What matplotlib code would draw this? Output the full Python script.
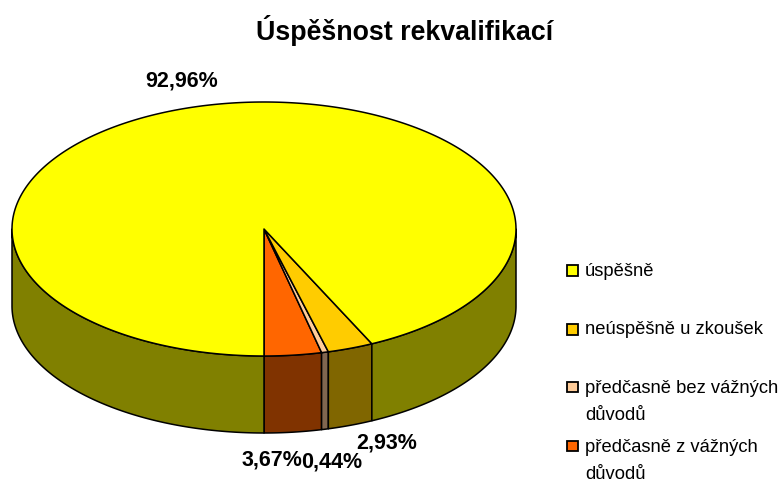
import matplotlib
matplotlib.use('Agg')
import matplotlib.pyplot as plt
import numpy as np
from matplotlib.patches import Polygon, Rectangle

plt.rcParams['font.family'] = ['Liberation Sans', 'DejaVu Sans']

title = 'Úspěšnost rekvalifikací'
# od spodku pie proti smeru hodin
labels = ['předčasně z vážných\ndůvodů', 'předčasně bez vážných\ndůvodů', 'neúspěšně u zkoušek', 'úspěšně']
values = [3.67, 0.44, 2.93, 92.96]
value_labels = ['3,67%', '0,44%', '2,93%', '92,96%']
top_colors = ['#ff6600', '#ffcc99', '#ffcc00', '#ffff00']
side_colors = ['#803300', '#806650', '#806600', '#808000']

# poradi v legende
legend_order = [3, 2, 1, 0]
legend_y = [271, 330, 402, 461]
label_pos = [(272, 460), (332, 462), (387, 443), (182, 81)]

cx, cy, rx, ry, depth = 264, 229, 252, 127, 77

fig = plt.figure(figsize=(7.84, 4.82), dpi=100)
ax = fig.add_axes([0, 0, 1, 1])
ax.set_xlim(0, 784)
ax.set_ylim(482, 0)
ax.axis('off')


def edge(t):
    # t = uhel od spodku elipsy proti smeru hodin
    return cx + rx * np.sin(t), cy + ry * np.cos(t)


bounds = np.concatenate([[0], np.cumsum(values)]) / sum(values) * 2 * np.pi

# bocni stena, jen predni polovina
for i in range(len(values)):
    for lo, hi in [(0, np.pi / 2), (3 * np.pi / 2, 2 * np.pi)]:
        a, b = max(bounds[i], lo), min(bounds[i + 1], hi)
        if a >= b:
            continue
        t = np.linspace(a, b, 150)
        x, y = edge(t)
        pts = np.r_[np.c_[x, y], np.c_[x, y + depth][::-1]]
        ax.add_patch(Polygon(pts, closed=True, fc=side_colors[i], ec='black', lw=1.1, joinstyle='round'))

# horni plocha
for i in range(len(values)):
    t = np.linspace(bounds[i], bounds[i + 1], 400)
    x, y = edge(t)
    pts = np.r_[[[cx, cy]], np.c_[x, y]]
    ax.add_patch(Polygon(pts, closed=True, fc=top_colors[i], ec='black', lw=1.1, joinstyle='round'))

ax.text(405, 31, title, ha='center', va='center', fontsize=19.25, fontweight='bold', color='black')

for s, (px, py) in zip(value_labels, label_pos):
    ax.text(px, py, s, ha='center', va='center', fontsize=15.5, fontweight='bold', color='black')

for i, ly in zip(legend_order, legend_y):
    first = ly if '\n' not in labels[i] else ly - 14.5
    ax.add_patch(Rectangle((567.5, first - 6), 10.5, 10.5, fc=top_colors[i], ec='black', lw=1.3))
    ax.text(585, ly, labels[i], ha='left', va='center', fontsize=13.2, color='black', linespacing=1.75)

fig.savefig('out.png', dpi=100)
